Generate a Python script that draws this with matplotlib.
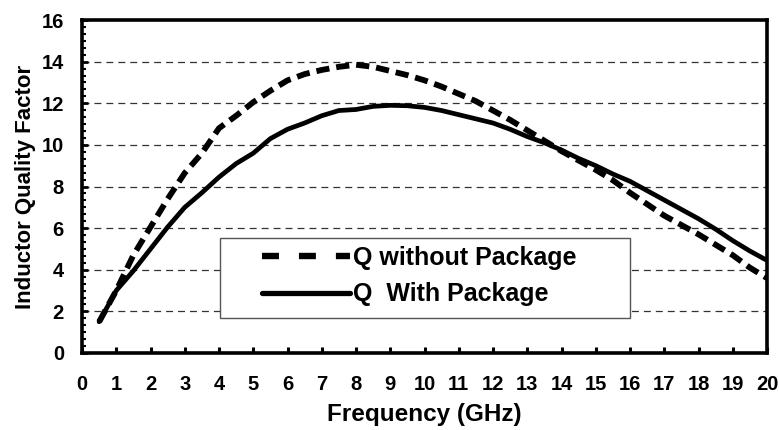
import numpy as np
import matplotlib
matplotlib.use("Agg")
import matplotlib.pyplot as plt
from matplotlib.ticker import MultipleLocator
from matplotlib.patches import Rectangle

plt.rcParams['font.family'] = ['Liberation Sans', 'DejaVu Sans']
plt.rcParams['font.weight'] = 'bold'
plt.rcParams['lines.scale_dashes'] = False

# frequency points (GHz)
freq = [0.5, 1.0, 1.5, 2.0, 2.5, 3.0, 3.5, 4.0, 4.5, 5.0, 5.5, 6.0, 6.5, 7.0,
        7.5, 8.0, 8.5, 9.0, 9.5, 10.0, 10.5, 11.0, 11.5, 12.0, 12.5, 13.0,
        13.5, 14.0, 14.5, 15.0, 15.5, 16.0, 16.5, 17.0, 17.5, 18.0, 18.5,
        19.0, 19.5, 20.0]

q_no_pkg = [1.5, 3.0, 4.7, 6.05, 7.4, 8.65, 9.6, 10.8, 11.4, 12.05, 12.6,
            13.1, 13.4, 13.6, 13.75, 13.85, 13.75, 13.55, 13.35, 13.1, 12.8,
            12.45, 12.1, 11.65, 11.2, 10.7, 10.2, 9.7, 9.25, 8.8, 8.3, 7.7,
            7.15, 6.6, 6.15, 5.7, 5.2, 4.7, 4.1, 3.6]

q_pkg = [1.5, 3.0, 3.95, 5.0, 6.05, 7.0, 7.7, 8.45, 9.1, 9.6, 10.3, 10.75,
         11.05, 11.4, 11.65, 11.7, 11.85, 11.9, 11.88, 11.8, 11.65, 11.45,
         11.25, 11.05, 10.75, 10.4, 10.1, 9.75, 9.35, 9.0, 8.6, 8.25, 7.8,
         7.35, 6.9, 6.45, 5.95, 5.4, 4.9, 4.45]

labels = ['Q without Package', 'Q  With Package']

fig = plt.figure(figsize=(7.79, 4.30), dpi=100)
ax = fig.add_axes([82/779, 77/430, 685/779, 333/430])

ax.plot(freq, q_no_pkg, color='black', lw=4.2, dashes=(9.5, 5.0),
        dash_capstyle='butt', label=labels[0], zorder=3)
ax.plot(freq, q_pkg, color='black', lw=3.4, solid_capstyle='round',
        label=labels[1], zorder=3)

ax.set_xlim(0, 20)
ax.set_ylim(0, 16)
ax.xaxis.set_major_locator(MultipleLocator(1))
ax.yaxis.set_major_locator(MultipleLocator(2))
ax.yaxis.set_minor_locator(MultipleLocator(1/3))

for yv in range(2, 16, 2):
    ax.axhline(yv, color='#333333', lw=0.9, dashes=(5, 3.6), zorder=1)

for s in ax.spines.values():
    s.set_linewidth(2.6)
ax.tick_params(axis='x', direction='in', length=4.5, width=2.2, labelsize=14.5, pad=16)
ax.tick_params(axis='y', which='major', direction='in', length=4, width=2,
               labelsize=14.5, pad=13)
ax.tick_params(axis='y', which='minor', direction='in', length=3, width=1.5)

ax.set_xlabel('Frequency (GHz)', fontsize=17.5, fontweight='bold', labelpad=6)
ax.set_ylabel('Inductor Quality Factor', fontsize=16, fontweight='bold', labelpad=4)

# legend box
ax.add_patch(Rectangle((0.2015, 0.105), 0.5985, 0.24, transform=ax.transAxes,
                       facecolor='white', edgecolor='#555555', lw=1.0, zorder=2.5))
leg = ax.legend(loc='center left', bbox_to_anchor=((262 - 82) / 685, 0.231),
                frameon=False, fontsize=18, handlelength=3.5, handletextpad=0.15,
                labelspacing=0.5, borderpad=0, borderaxespad=0)
leg.set_zorder(4)
hl = leg.get_lines()
hl[0].set_dashes((12.2, 14.4))
hl[0].set_linewidth(4.6)
hl[1].set_linewidth(3.8)

fig.savefig('out.png', dpi=100)
